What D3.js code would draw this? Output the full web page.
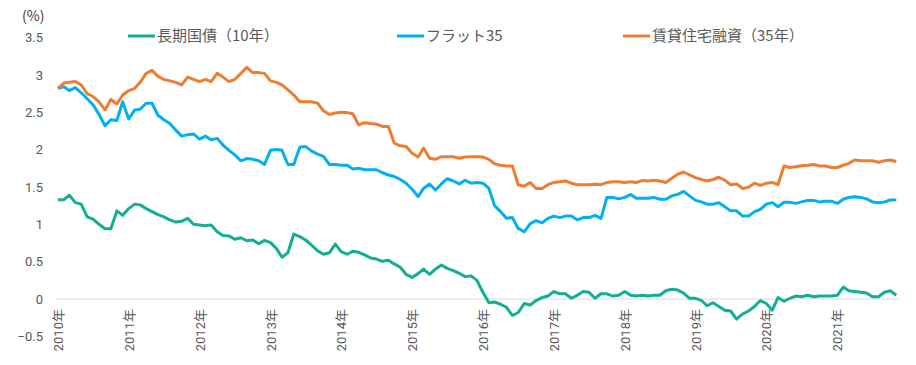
<!DOCTYPE html>
<html>
<head>
<meta charset="utf-8">
<script src="https://cdn.jsdelivr.net/npm/d3@7"></script>
<style>
    body { margin: 0; background: #fff; }
    svg { display: block; }
    .tick-label { font-family: Roboto, "Noto Sans CJK JP", sans-serif; font-size: 13px; fill: #595959; }
    .legend-label { font-family: "Noto Sans CJK JP", sans-serif; font-size: 15px; fill: #595959; }
</style>
</head>
<body>
<svg width="916" height="365"></svg>
<script>
// monthly, Jan 2010 - Nov 2021
var startYear = 2010;
var startMonth = 0;

var seriesNames = ["長期国債（10年）", "フラット35", "賃貸住宅融資（35年）"];
var seriesColors = ["#14ae96", "#00b0f0", "#ed7d31"];

var jgb10 = [
    1.33, 1.33, 1.39, 1.29, 1.27, 1.10, 1.07, 1.00, 0.94, 0.94, 1.18, 1.12,
    1.21, 1.27, 1.26, 1.21, 1.17, 1.13, 1.10, 1.06, 1.03, 1.04, 1.08, 1.00,
    0.99, 0.98, 0.99, 0.90, 0.85, 0.845, 0.80, 0.82, 0.78, 0.79, 0.74, 0.785,
    0.755, 0.675, 0.56, 0.62, 0.87, 0.835, 0.79, 0.72, 0.645, 0.60, 0.62, 0.735,
    0.63, 0.60, 0.64, 0.625, 0.59, 0.55, 0.535, 0.505, 0.52, 0.47, 0.425, 0.33,
    0.29, 0.34, 0.40, 0.33, 0.40, 0.455, 0.41, 0.38, 0.345, 0.30, 0.31, 0.25,
    0.09, -0.05, -0.04, -0.07, -0.11, -0.22, -0.18, -0.06, -0.08, -0.02, 0.02, 0.04,
    0.10, 0.07, 0.07, 0.01, 0.05, 0.10, 0.09, 0.01, 0.07, 0.07, 0.04, 0.05,
    0.10, 0.05, 0.04, 0.05, 0.04, 0.05, 0.05, 0.11, 0.13, 0.12, 0.08, 0.01,
    0.01, -0.02, -0.09, -0.05, -0.10, -0.15, -0.16, -0.27, -0.20, -0.16, -0.10, -0.02,
    -0.06, -0.15, 0.02, -0.03, 0.01, 0.04, 0.03, 0.05, 0.03, 0.04, 0.04, 0.04,
    0.05, 0.16, 0.11, 0.10, 0.09, 0.08, 0.03, 0.03, 0.09, 0.11, 0.05
];

var flat35 = [
    2.82, 2.84, 2.79, 2.83, 2.76, 2.68, 2.60, 2.47, 2.32, 2.40, 2.39, 2.64,
    2.41, 2.53, 2.54, 2.62, 2.62, 2.46, 2.40, 2.35, 2.26, 2.18, 2.20, 2.21,
    2.14, 2.18, 2.13, 2.15, 2.06, 1.99, 1.93, 1.85, 1.88, 1.87, 1.85, 1.80,
    1.99, 2.00, 1.99, 1.80, 1.80, 2.03, 2.04, 1.98, 1.94, 1.91, 1.80, 1.80,
    1.79, 1.79, 1.74, 1.75, 1.73, 1.73, 1.73, 1.69, 1.66, 1.64, 1.60, 1.55,
    1.47, 1.37, 1.48, 1.54, 1.46, 1.54, 1.61, 1.58, 1.54, 1.59, 1.55, 1.56,
    1.55, 1.48, 1.25, 1.17, 1.08, 1.09, 0.945, 0.90, 1.01, 1.05, 1.02, 1.08,
    1.11, 1.09, 1.11, 1.11, 1.06, 1.09, 1.09, 1.12, 1.08, 1.36, 1.36, 1.34,
    1.36, 1.40, 1.35, 1.35, 1.35, 1.36, 1.335, 1.335, 1.38, 1.40, 1.44, 1.38,
    1.32, 1.30, 1.27, 1.27, 1.29, 1.235, 1.18, 1.18, 1.11, 1.11, 1.17, 1.20,
    1.27, 1.29, 1.235, 1.295, 1.295, 1.28, 1.30, 1.32, 1.32, 1.30, 1.31, 1.31,
    1.28, 1.335, 1.36, 1.37, 1.36, 1.34, 1.30, 1.29, 1.30, 1.325, 1.325
];

var rentalLoan35 = [
    2.82, 2.89, 2.90, 2.91, 2.865, 2.75, 2.71, 2.64, 2.53, 2.67, 2.61, 2.73,
    2.79, 2.82, 2.90, 3.02, 3.06, 2.98, 2.94, 2.92, 2.90, 2.865, 2.97, 2.94,
    2.91, 2.94, 2.91, 3.02, 2.97, 2.91, 2.94, 3.02, 3.10, 3.03, 3.03, 3.02,
    2.92, 2.90, 2.865, 2.80, 2.73, 2.64, 2.64, 2.64, 2.62, 2.52, 2.47, 2.49,
    2.50, 2.495, 2.48, 2.33, 2.36, 2.35, 2.34, 2.31, 2.31, 2.085, 2.05, 2.04,
    1.95, 1.90, 2.02, 1.885, 1.87, 1.905, 1.905, 1.905, 1.885, 1.90, 1.905, 1.905,
    1.90, 1.87, 1.81, 1.79, 1.78, 1.78, 1.53, 1.51, 1.56, 1.48, 1.48, 1.53,
    1.56, 1.57, 1.58, 1.55, 1.53, 1.53, 1.53, 1.535, 1.53, 1.56, 1.57, 1.57,
    1.56, 1.57, 1.56, 1.585, 1.58, 1.59, 1.58, 1.56, 1.615, 1.67, 1.70, 1.66,
    1.625, 1.60, 1.58, 1.60, 1.63, 1.59, 1.53, 1.54, 1.48, 1.495, 1.55, 1.52,
    1.55, 1.56, 1.53, 1.78, 1.76, 1.77, 1.785, 1.79, 1.80, 1.78, 1.78, 1.76,
    1.76, 1.79, 1.815, 1.86, 1.85, 1.85, 1.85, 1.83, 1.85, 1.86, 1.84
];

var yTicks = [-0.5, 0, 0.5, 1, 1.5, 2, 2.5, 3, 3.5];
var yearTicks = [2010, 2011, 2012, 2013, 2014, 2015, 2016, 2017, 2018, 2019, 2020, 2021];

var allSeries = [jgb10, flat35, rentalLoan35];

var svg = d3.select("svg");

function monthDate(i) {
    return new Date(startYear, startMonth + i, 1);
}

var xScale = d3.scaleTime()
    .domain([monthDate(0), monthDate(jgb10.length - 1)])
    .range([57.9, 896.3]);
var yScale = d3.scaleLinear().domain([-0.5, 3.5]).range([336.4, 37.5]);

// Zero line
svg.append("line")
    .attr("x1", 56)
    .attr("x2", 899)
    .attr("y1", yScale(0))
    .attr("y2", yScale(0))
    .style("stroke", "#d9d9d9")
    .style("stroke-width", 1);

// Y axis labels
var yAxis = d3.axisLeft(yScale)
    .tickValues(yTicks)
    .tickSize(0)
    .tickPadding(0)
    .tickFormat(d => d3.format("")(d));

svg.append("g")
    .attr("transform", "translate(43,0)")
    .call(yAxis)
    .call(g => g.select(".domain").remove())
    .selectAll("text")
    .attr("class", "tick-label")
    .attr("font-family", null)
    .attr("font-size", null)
    .attr("fill", null);

// X axis labels (rotated years)
var xAxis = d3.axisBottom(xScale)
    .tickValues(yearTicks.map(y => new Date(y, 0, 1)))
    .tickSize(0)
    .tickFormat(d => d.getFullYear() + "年");

svg.append("g")
    .attr("transform", "translate(0," + (yScale(0) + 10) + ")")
    .call(xAxis)
    .call(g => g.select(".domain").remove())
    .selectAll("text")
    .attr("class", "tick-label")
    .attr("font-family", null)
    .attr("font-size", null)
    .attr("fill", null)
    .attr("text-anchor", "end")
    .attr("transform", "rotate(-90)")
    .attr("x", 0)
    .attr("y", 0)
    .attr("dx", 0)
    .attr("dy", "0.35em");

// Unit label
svg.append("text")
    .attr("x", 22)
    .attr("y", 21)
    .style("font-family", "'Noto Sans CJK JP', sans-serif")
    .style("font-size", "14px")
    .style("fill", "#404040")
    .text("(%)");

// Lines
var line = d3.line()
    .x((d, i) => xScale(monthDate(i)))
    .y(d => yScale(d));

svg.selectAll("path.series")
    .data(allSeries)
    .enter()
    .append("path")
    .attr("class", "series")
    .attr("d", d => line(d))
    .attr("fill", "none")
    .attr("stroke", (d, i) => seriesColors[i])
    .attr("stroke-width", 3)
    .attr("stroke-linejoin", "round");

// Legend
var legendX = [128, 397, 623];

var legend = svg.selectAll("g.legend")
    .data(seriesNames)
    .enter()
    .append("g")
    .attr("class", "legend")
    .attr("transform", (d, i) => "translate(" + legendX[i] + ",36)");

legend.append("line")
    .attr("x1", 0)
    .attr("x2", 27)
    .attr("y1", 0)
    .attr("y2", 0)
    .attr("stroke", (d, i) => seriesColors[i])
    .attr("stroke-width", 3);

legend.append("text")
    .attr("class", "legend-label")
    .attr("x", 29)
    .attr("y", 0)
    .attr("dy", "0.35em")
    .text(d => d);
</script>
</body>
</html>
